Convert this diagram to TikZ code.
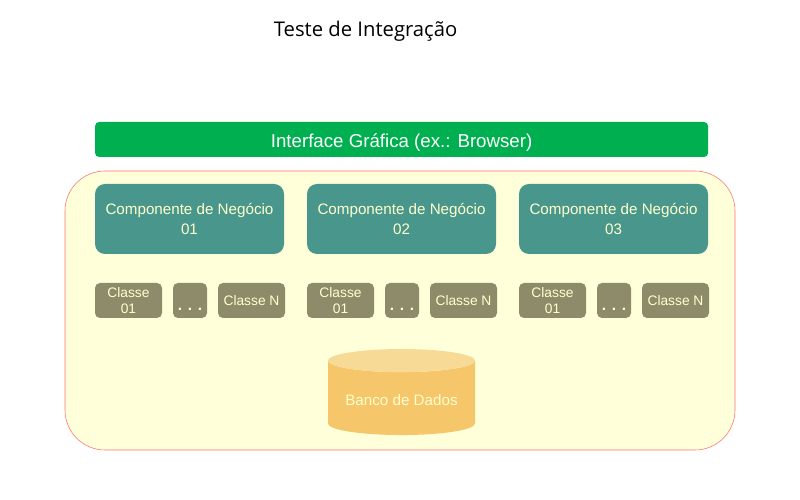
\documentclass[tikz,border=0pt]{standalone}
\usepackage{fontspec}
\setmainfont{Liberation Sans}
\newfontfamily\titlefont{Open Sans}
\usepackage{xcolor}
\usetikzlibrary{shapes.geometric}
\definecolor{barGreen}{HTML}{00B050}
\definecolor{compTeal}{HTML}{48968C}
\definecolor{classOlive}{HTML}{8E8B6B}
\definecolor{boxYellow}{HTML}{FFFFD9}
\definecolor{boxRed}{HTML}{FF7070}
\definecolor{lightText}{HTML}{FFFFCC}
\definecolor{dbBody}{HTML}{F6C66A}
\definecolor{dbTop}{HTML}{F8DA97}

\begin{document}
\begin{tikzpicture}[
    comp/.style={rectangle, rounded corners=0.25cm, fill=compTeal, text=lightText, minimum width=4.725cm, minimum height=1.75cm, align=center, font=\fontsize{10.8}{14}\selectfont},
    cls/.style={rectangle, rounded corners=0.125cm, fill=classOlive, text=lightText, minimum width=1.675cm, minimum height=0.875cm, inner sep=0pt, align=center, font=\fontsize{9.8}{11.5}\selectfont},
    dotbox/.style={cls, minimum width=0.85cm, font=\fontsize{11}{12}\bfseries}
  ]
        \useasboundingbox (0, 0) rectangle (20, 12.5);

        \node[font=\titlefont\fontsize{14.4}{17}\selectfont] at (9.14, 11.725) (title) {Teste de Integração};

        \node[rectangle, rounded corners=0.1cm, fill=barGreen, text=white, minimum width=15.325cm, minimum height=0.875cm, font=\fontsize{13.3}{15}\selectfont] at (10.04, 9.0125) (gui) {\smash{\raisebox{-5.6pt}{Interface Gráfica (ex.: Browser)}}};

        \node[rectangle, rounded corners=1cm, draw=boxRed, fill=boxYellow, minimum width=16.75cm, minimum height=6.975cm] at (10, 4.7375) (app) {};

        \node[comp] at (4.7375, 7.025) (c1) {Componente de Negócio\\01};
        \node[comp] at (10.0375, 7.025) (c2) {Componente de Negócio\\02};
        \node[comp] at (15.3375, 7.025) (c3) {Componente de Negócio\\03};

        \node[cls] at (3.2125, 4.9875) (c1a) {Classe\\01};
        \node[dotbox] at (4.75, 4.9875) (c1b) {\smash{\raisebox{-7pt}{.\hspace{4pt}.\hspace{4pt}.}}};
        \node[cls] at (6.2875, 4.9875) (c1n) {Classe N};

        \node[cls] at (8.5125, 4.9875) (c2a) {Classe\\01};
        \node[dotbox] at (10.05, 4.9875) (c2b) {\smash{\raisebox{-7pt}{.\hspace{4pt}.\hspace{4pt}.}}};
        \node[cls] at (11.5875, 4.9875) (c2n) {Classe N};

        \node[cls] at (13.8125, 4.9875) (c3a) {Classe\\01};
        \node[dotbox] at (15.35, 4.9875) (c3b) {\smash{\raisebox{-7pt}{.\hspace{4pt}.\hspace{4pt}.}}};
        \node[cls] at (16.8875, 4.9875) (c3n) {Classe N};

        \node[cylinder, shape border rotate=90, aspect=0.19, cylinder uses custom fill, cylinder body fill=dbBody, cylinder end fill=dbTop, minimum width=3.675cm, minimum height=2.15cm, text=lightText, font=\fontsize{10.8}{14}\selectfont] at (10.0375, 2.5) (db) {Banco de Dados};
    \end{tikzpicture}
\end{document}
